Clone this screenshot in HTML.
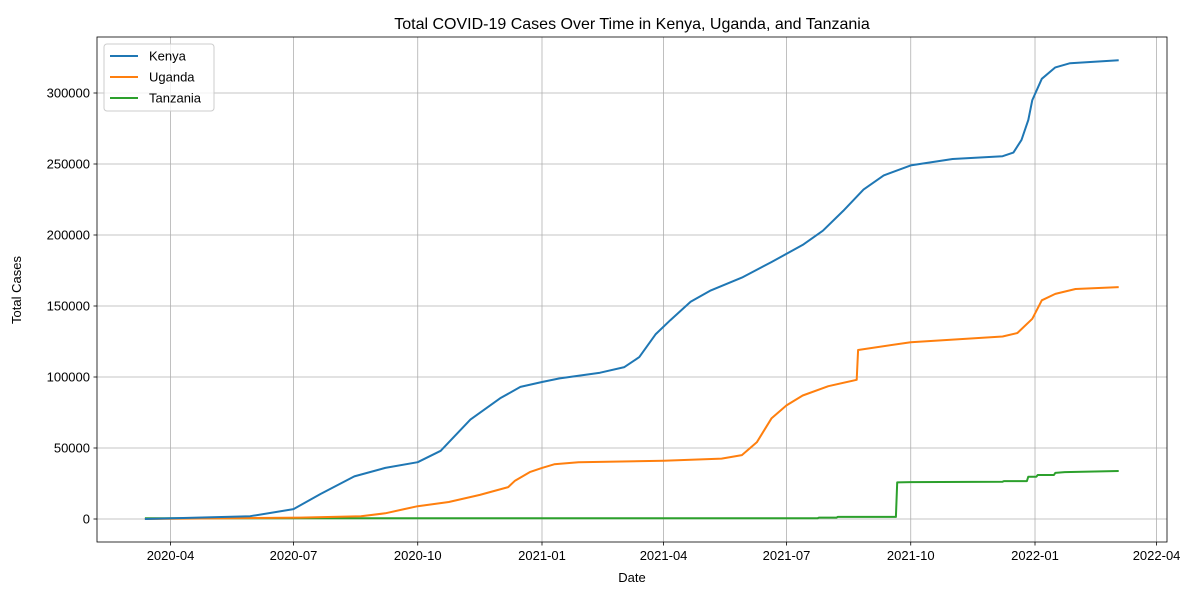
<!DOCTYPE html>
<html><head><meta charset="utf-8"><style>
body{margin:0;background:#fff}
svg{display:block;font-family:"Liberation Sans","DejaVu Sans",sans-serif}
</style></head><body>
<svg id="chart" width="1200" height="600">
<rect width="1200" height="600" fill="#fff"/>
<g id="grid"></g><g id="series"></g><g id="axes"></g>
</svg>
<script>
const kenyaDates=["2020-03-13","2020-05-30","2020-07-01","2020-07-21","2020-08-15","2020-09-07","2020-10-01","2020-10-18","2020-11-09","2020-12-01","2020-12-16","2021-01-01","2021-01-14","2021-02-13","2021-03-03","2021-03-14","2021-03-26","2021-04-06","2021-04-21","2021-05-06","2021-05-29","2021-06-20","2021-07-13","2021-07-28","2021-08-12","2021-08-27","2021-09-11","2021-10-01","2021-11-01","2021-12-08","2021-12-16","2021-12-22","2021-12-27","2021-12-30","2022-01-06","2022-01-16","2022-01-27","2022-03-04"];
const kenyaValues=[0,2000,7000,17600,30000,36000,40000,48000,70000,85000,93000,96500,99000,103000,107000,114000,130000,140000,153000,161000,170000,181000,193000,203000,217000,232000,242000,249000,253500,255500,258000,267000,281000,295000,310000,318000,321000,323000];
const ugandaDates=["2020-03-13","2020-07-06","2020-08-20","2020-09-07","2020-09-21","2020-10-01","2020-10-24","2020-11-16","2020-12-07","2020-12-12","2020-12-23","2021-01-01","2021-01-10","2021-01-28","2021-04-01","2021-05-14","2021-05-29","2021-06-09","2021-06-20","2021-07-01","2021-07-13","2021-08-01","2021-08-22","2021-08-23","2021-10-01","2021-12-08","2021-12-19","2021-12-30","2022-01-06","2022-01-16","2022-01-31","2022-03-04"];
const ugandaValues=[0,1000,2000,4000,7000,9000,12000,17000,22500,27000,33000,36000,38500,40000,41000,42500,45000,54000,71000,80000,87000,93500,98000,119000,124500,128500,131000,141000,154000,158500,162000,163300];
const tanzaniaDates=["2020-03-13","2021-07-24","2021-07-25","2021-08-07","2021-08-08","2021-09-20","2021-09-21","2021-10-01","2021-12-08","2021-12-09","2021-12-26","2021-12-27","2022-01-02","2022-01-03","2022-01-15","2022-01-16","2022-01-23","2022-03-04"];
const tanzaniaValues=[500,500,1000,1000,1500,1500,25800,26000,26300,26700,26700,29800,29800,31000,31000,32500,33000,33800];
const yTicks=[0,50000,100000,150000,200000,250000,300000];
const xTicks=["2020-04","2020-07","2020-10","2021-01","2021-04","2021-07","2021-10","2022-01","2022-04"];

const NS="http://www.w3.org/2000/svg";
const L=97,R=1167,T=37,B=542;
const base=Date.UTC(2021,0,1);
function days(s){const p=s.split("-");return (Date.UTC(+p[0],+p[1]-1,p[2]?+p[2]:1)-base)/864e5;}
function xs(s){return 542+days(s)*1.3507;}
function ys(v){return 519-v/50000*71;}
function el(t,a,parent,txt){const e=document.createElementNS(NS,t);for(const k in a)e.setAttribute(k,a[k]);if(txt!==undefined)e.textContent=txt;parent.appendChild(e);return e;}
const grid=document.getElementById("grid"),axes=document.getElementById("axes"),ser=document.getElementById("series");
yTicks.forEach(v=>{const y=ys(v);
 const g=el("line",{x1:L,x2:R,y1:y,y2:y,stroke:"#b0b0b0","stroke-width":0.8},grid);
 
 
 el("line",{x1:L-3.5,x2:L,y1:y,y2:y,stroke:"#000","stroke-width":0.8},axes);
 const t=el("text",{x:L-7,y:y+4.5,"text-anchor":"end","font-size":13},axes,String(v));
 
 
});
xTicks.forEach(s=>{const x=xs(s);
 const g=el("line",{x1:x,x2:x,y1:T,y2:B,stroke:"#b0b0b0","stroke-width":0.8},grid);
 
 
 el("line",{x1:x,x2:x,y1:B,y2:B+3.5,stroke:"#000","stroke-width":0.8},axes);
 const t=el("text",{x:x,y:B+18,"text-anchor":"middle","font-size":13},axes,s);
 
 
});
const fr=el("rect",{x:L,y:T,width:R-L,height:B-T,fill:"none",stroke:"#000","stroke-width":0.8},axes);


function line(d,v,c,name){const pts=d.map((s,i)=>xs(s).toFixed(1)+","+ys(v[i]).toFixed(1)).join(" ");
 const p=el("polyline",{points:pts,fill:"none",stroke:c,"stroke-width":2,"stroke-linejoin":"round"},ser);
 
 }
line(tanzaniaDates,tanzaniaValues,"#2ca02c","tanzania-line");
line(ugandaDates,ugandaValues,"#ff7f0e","uganda-line");
line(kenyaDates,kenyaValues,"#1f77b4","kenya-line");
const title=el("text",{x:632,y:29,"text-anchor":"middle","font-size":16},axes,"Total COVID-19 Cases Over Time in Kenya, Uganda, and Tanzania");


const xl=el("text",{x:632,y:582,"text-anchor":"middle","font-size":13},axes,"Date");


const yl=el("text",{x:21,y:290,"text-anchor":"middle","font-size":13,transform:"rotate(-90 21 290)"},axes,"Total Cases");


const lg=el("g",{},axes);


el("rect",{x:104,y:44,width:110,height:67,rx:3,fill:"#fff","fill-opacity":0.8,stroke:"#ccc","stroke-width":1},lg);
[["Kenya","#1f77b4"],["Uganda","#ff7f0e"],["Tanzania","#2ca02c"]].forEach((e,i)=>{const y=56+i*21;
 const g=el("g",{},lg);
 
 
 el("line",{x1:110,x2:138,y1:y,y2:y,stroke:e[1],"stroke-width":2},g);
 el("text",{x:149,y:y+4.5,"font-size":13},g,e[0]);
});
</script>
</body></html>
